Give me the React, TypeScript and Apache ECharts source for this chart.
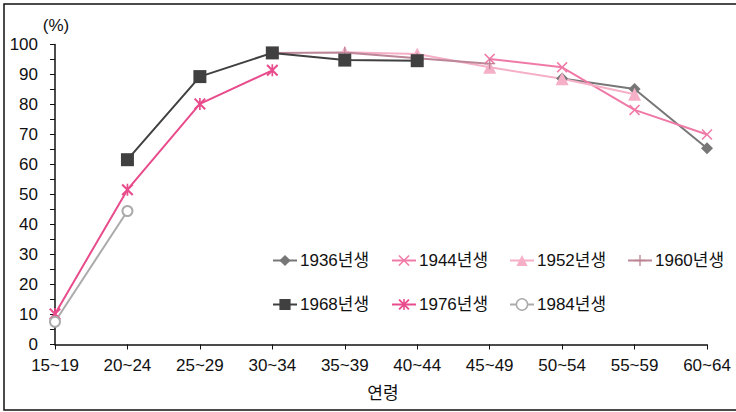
import React, { useEffect, useRef } from "react";
import * as echarts from "echarts";

// Age groups on the category axis
const ageGroups = ["15~19", "20~24", "25~29", "30~34", "35~39", "40~44", "45~49", "50~54", "55~59", "60~64"];

// Birth cohorts (legend names)
const cohortNames = ["1936년생", "1944년생", "1952년생", "1960년생", "1968년생", "1976년생", "1984년생"];

// Participation rate (%) per age group for each cohort; null = not observed
const rate1936 = [null, null, null, null, null, null, null, 88.7, 85.2, 65.4];
const rate1944 = [null, null, null, null, null, null, 95.2, 92.4, 78.2, 70.0];
const rate1952 = [null, null, null, null, 97.4, 96.8, 92.4, 88.6, 83.4, null];
const rate1960 = [null, null, null, 97.2, 97.3, 95.4, 93.6, null, null, null];
const rate1968 = [null, 61.6, 89.3, 97.2, 94.8, 94.6, null, null, null, null];
const rate1976 = [10.2, 51.6, 80.2, 91.4, null, null, null, null, null, null];
const rate1984 = [7.6, 44.5, null, null, null, null, null, null, null, null];

const yTicks = { min: 0, max: 100, interval: 10 };

const FONT = "'Liberation Sans', 'Noto Sans CJK KR', sans-serif";
const FS = 17;

// Marker outlines (10x10 box)
const SYM_X = "path://M0,1 L1,0 L5,4 L9,0 L10,1 L6,5 L10,9 L9,10 L5,6 L1,10 L0,9 L4,5 Z";
const SYM_PLUS = "path://M4.4,0 H5.6 V4.4 H10 V5.6 H5.6 V10 H4.4 V5.6 H0 V4.4 H4.4 Z";
const SYM_STAR =
  "path://M0,1.2 L1.2,0 L5,3.8 L8.8,0 L10,1.2 L6.2,5 L10,8.8 L8.8,10 L5,6.2 L1.2,10 L0,8.8 L3.8,5 Z M4.3,0 H5.7 V10 H4.3 Z";

type SeriesDef = {
  name: string;
  data: (number | null)[];
  color: string;
  symbol: string;
  symbolSize: number;
  hollow?: boolean;
};

const seriesDefs: SeriesDef[] = [
  { name: cohortNames[0], data: rate1936, color: "#777777", symbol: "diamond", symbolSize: 12 },
  { name: cohortNames[1], data: rate1944, color: "#F07AA7", symbol: SYM_X, symbolSize: 11 },
  { name: cohortNames[2], data: rate1952, color: "#F5AFC7", symbol: "triangle", symbolSize: 13 },
  { name: cohortNames[3], data: rate1960, color: "#BC8696", symbol: SYM_PLUS, symbolSize: 11 },
  { name: cohortNames[4], data: rate1968, color: "#404040", symbol: "rect", symbolSize: 13 },
  { name: cohortNames[5], data: rate1976, color: "#E84C8C", symbol: SYM_STAR, symbolSize: 12 },
  { name: cohortNames[6], data: rate1984, color: "#ABABAB", symbol: "circle", symbolSize: 10, hollow: true },
];

// Legend slots: four per row, two rows
const legendCols = [272, 391, 509, 627];
const legendRows = [252, 296];

export default function App() {
  const ref = useRef<HTMLDivElement>(null);

  useEffect(() => {
    if (!ref.current) return;
    const chart = echarts.init(ref.current, undefined, { renderer: "svg" });

    const series = seriesDefs.map((s) => ({
      type: "line",
      name: s.name,
      data: s.data,
      symbol: s.symbol,
      symbolSize: s.symbolSize,
      connectNulls: false,
      lineStyle: { color: s.color, width: 2, type: "solid" },
      itemStyle: s.hollow
        ? { color: "#ffffff", borderColor: s.color, borderWidth: 2 }
        : { color: s.color, borderWidth: 0 },
      emphasis: { disabled: true },
    }));

    const legends = seriesDefs.map((s, i) => ({
      data: [{ name: s.name, itemStyle: s.hollow ? { color: "#ffffff", borderColor: s.color, borderWidth: 1.5 } : undefined }],
      left: legendCols[i % 4],
      top: legendRows[Math.floor(i / 4)],
      itemWidth: 24,
      itemHeight: 14,
      itemGap: 0,
      padding: 0,
      textStyle: { fontSize: FS, fontFamily: FONT, color: "#111", padding: [0, 0, 0, -2] },
      selectedMode: false,
    }));

    chart.setOption({
      animation: false,
      backgroundColor: "#ffffff",
      grid: { left: 55, right: 29, top: 44.5, bottom: 67.5, containLabel: false, outerBoundsMode: "none" },
      legend: legends,
      xAxis: {
        type: "category",
        data: ageGroups,
        boundaryGap: false,
        axisLine: { lineStyle: { color: "#111", width: 1.5 } },
        axisTick: { show: true, length: 5, inside: false, lineStyle: { color: "#111" } },
        axisLabel: { fontSize: FS, fontFamily: FONT, color: "#111", margin: 12 },
        splitLine: { show: false },
      },
      yAxis: {
        type: "value",
        min: yTicks.min,
        max: yTicks.max,
        interval: yTicks.interval,
        axisLine: { show: true, lineStyle: { color: "#111", width: 1.5 } },
        axisTick: { show: true, length: 5, inside: false, lineStyle: { color: "#111" } },
        minorTick: { show: true, splitNumber: 2, length: 5, lineStyle: { color: "#111" } },
        axisLabel: { fontSize: FS, fontFamily: FONT, color: "#111", margin: 17 },
        splitLine: { show: false },
      },
      graphic: [
        {
          type: "rect",
          shape: { x: 4, y: 4, width: 760, height: 406 },
          style: { fill: "none", stroke: "#111", lineWidth: 1.5 },
          silent: true,
        },
        {
          type: "text",
          x: 56,
          y: 25,
          style: { text: "(%)", fontSize: FS, fontFamily: FONT, fill: "#111", align: "center", verticalAlign: "middle" },
        },
        {
          type: "text",
          x: 383,
          y: 393,
          style: { text: "연령", fontSize: FS, fontFamily: FONT, fill: "#111", align: "center", verticalAlign: "middle" },
        },
      ],
      series,
    });

    return () => chart.dispose();
  }, []);

  return <div ref={ref} style={{ position: "absolute", left: 0, top: 0, width: 736, height: 412 }} />;
}
